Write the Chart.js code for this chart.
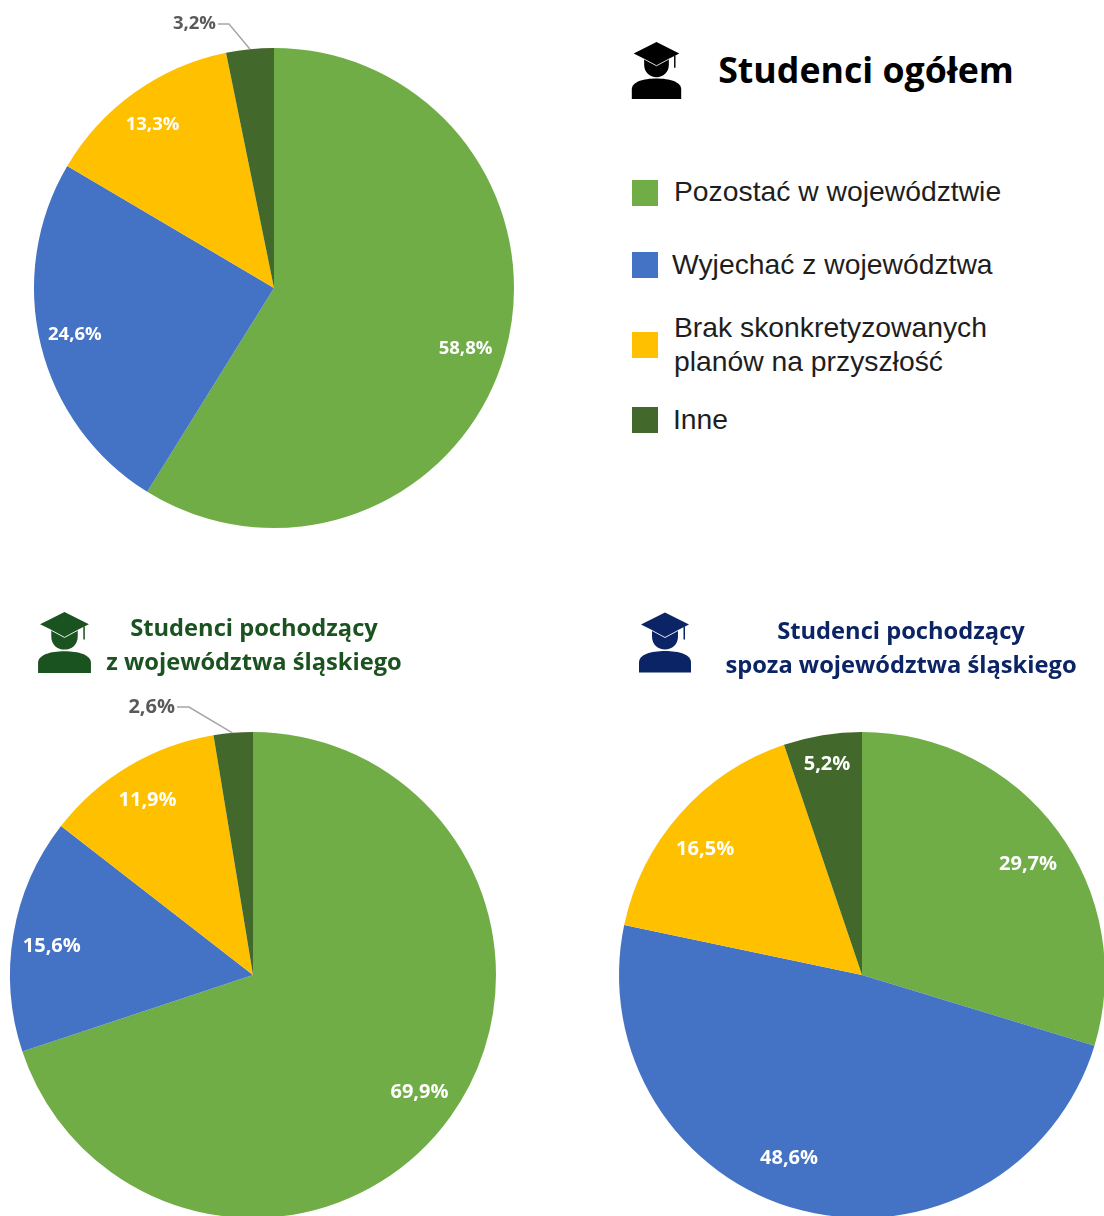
<!DOCTYPE html>
<html lang="pl">
<head>
<meta charset="utf-8">
<title>Studenci - plany na przyszłość</title>
<script src="https://cdn.jsdelivr.net/npm/chart.js@4"></script>
<style>
    html, body { margin: 0; padding: 0; background: #fff; }
    #page { position: relative; width: 1104px; height: 1216px; overflow: hidden; }
    .pie { position: absolute; }
    .txt { position: absolute; white-space: nowrap; }
    .title { font-family: "Open Sans", sans-serif; font-weight: 700; text-align: center; transform: translateX(-50%); }
    .legend { font-family: "Liberation Sans", sans-serif; font-size: 28.3px; line-height: 34px; color: #1e1e1e; }
    .box { position: absolute; width: 26px; height: 26px; }
    svg.icon { position: absolute; }
</style>
</head>
<body>
<div id="page">
    <canvas id="pieOgolem" class="pie"></canvas>
    <canvas id="pieSlaskie" class="pie"></canvas>
    <canvas id="pieSpoza" class="pie"></canvas>

    <svg class="icon" style="left:631px;top:42px" width="51" height="57" viewBox="0 0 52 60"><use href="#student" fill="#000"/></svg>
    <svg class="icon" style="left:38px;top:612px" width="53" height="61" viewBox="0 0 52 60"><use href="#student" fill="#1a5220"/></svg>
    <svg class="icon" style="left:639px;top:612px" width="52" height="61" viewBox="0 0 52 60"><use href="#student" fill="#0b2465"/></svg>

    <div class="txt title" style="left:866px;top:44px;font-size:35.7px;line-height:50px;color:#000">Studenci ogółem</div>
    <div class="txt title" style="left:254px;top:610px;font-size:23.7px;line-height:34px;color:#1a5220">Studenci pochodzący<br>z województwa śląskiego</div>
    <div class="txt title" style="left:901px;top:613px;font-size:23.7px;line-height:34px;color:#0b2465">Studenci pochodzący<br>spoza województwa śląskiego</div>

    <div class="box" style="left:632px;top:180px;background:#70ad47"></div>
    <div class="txt legend" style="left:674px;top:174px">Pozostać w województwie</div>
    <div class="box" style="left:632px;top:252px;background:#4472c4"></div>
    <div class="txt legend" style="left:672px;top:247px">Wyjechać z województwa</div>
    <div class="box" style="left:632px;top:332px;background:#ffc000"></div>
    <div class="txt legend" style="left:674px;top:310px">Brak skonkretyzowanych<br>planów na przyszłość</div>
    <div class="box" style="left:632px;top:407px;background:#43682b"></div>
    <div class="txt legend" style="left:673px;top:402px">Inne</div>

    <svg width="0" height="0" style="position:absolute">
        <defs>
            <g id="student">
                <path d="M26 0 L50 12 L39 17.5 L39 24 C39 32 33 37 26 37 C19 37 13 32 13 24 L13 17.5 L2 12 Z"/>
                <path d="M13 18 L26 25 L39 18" fill="none" stroke="#fff" stroke-width="0.9"/>
                <path d="M44.5 14.5 L46 14 L46 27 L44.5 27 Z"/>
                <path d="M0 60 L0 50 C0 42 12 38.5 26 38.5 C40 38.5 52 42 52 50 L52 60 Z"/>
            </g>
        </defs>
    </svg>
</div>

<script>
const categories = ['Pozostać w województwie', 'Wyjechać z województwa', 'Brak skonkretyzowanych planów na przyszłość', 'Inne'];
const kolory = ['#70ad47', '#4472c4', '#ffc000', '#43682b'];

const ogolem = [58.8, 24.6, 13.3, 3.2];
const slaskie = [69.9, 15.6, 11.9, 2.6];
const spoza = [29.7, 48.6, 16.5, 5.2];

const margines = 70;

// etykiety wartosci rysowane na wycinkach, male wycinki moga miec odnosnik
const etykiety = {
    id: 'etykiety',
    afterDatasetsDraw(chart, args, opts) {
        const ctx = chart.ctx;
        const arcs = chart.getDatasetMeta(0).data;
        ctx.save();
        ctx.font = '700 ' + opts.size + 'px "Open Sans", sans-serif';
        ctx.textBaseline = 'middle';
        arcs.forEach((arc, i) => {
            const tekst = chart.data.datasets[0].data[i].toFixed(1).replace('.', ',') + '%';
            const kat = (arc.startAngle + arc.endAngle) / 2;
            if (opts.odnosnik && opts.odnosnik.index === i) {
                const o = opts.odnosnik;
                const kx = arc.x + Math.cos(o.kat) * arc.outerRadius;
                const ky = arc.y + Math.sin(o.kat) * arc.outerRadius;
                ctx.strokeStyle = '#a6a6a6';
                ctx.lineWidth = 1.5;
                ctx.beginPath();
                ctx.moveTo(arc.x + o.lx, arc.y + o.ly);
                ctx.lineTo(arc.x + o.lx + o.poziom, arc.y + o.ly);
                ctx.lineTo(kx, ky);
                ctx.stroke();
                ctx.fillStyle = '#595959';
                ctx.textAlign = 'right';
                ctx.fillText(tekst, arc.x + o.lx - 2, arc.y + o.ly);
                return;
            }
            const r = arc.outerRadius * opts.promien[i];
            const p = opts.przesun[i];
            ctx.fillStyle = '#fff';
            ctx.textAlign = 'center';
            ctx.fillText(tekst, arc.x + Math.cos(kat) * r + p[0], arc.y + Math.sin(kat) * r + p[1]);
        });
        ctx.restore();
    }
};

function rysujPie(id, values, cx, cy, r, opcjeEtykiet) {
    const canvas = document.getElementById(id);
    const bok = 2 * (r + margines);
    canvas.style.left = (cx - r - margines) + 'px';
    canvas.style.top = (cy - r - margines) + 'px';
    canvas.style.width = bok + 'px';
    canvas.style.height = bok + 'px';
    canvas.width = bok;
    canvas.height = bok;
    return new Chart(canvas, {
        type: 'pie',
        data: {
            labels: categories,
            datasets: [{ data: values, backgroundColor: kolory, borderWidth: 0 }]
        },
        options: {
            responsive: false,
            animation: false,
            layout: { padding: margines },
            plugins: {
                legend: { display: false },
                tooltip: { enabled: false },
                etykiety: opcjeEtykiet
            }
        },
        plugins: [etykiety]
    });
}

rysujPie('pieOgolem', ogolem, 274, 288, 240, {
    size: 18.5,
    promien: [0.83, 0.85, 0.85],
    przesun: [[0, 6], [-1, -2], [-3, 3]],
    odnosnik: { index: 3, lx: -56, ly: -264, poziom: 11, kat: -Math.PI / 2 - 0.1 }
});
rysujPie('pieSlaskie', slaskie, 253, 975, 243, {
    size: 20,
    promien: [0.84, 0.84, 0.84],
    przesun: [[1, -2], [0, 6], [-1, 1]],
    odnosnik: { index: 3, lx: -76, ly: -268, poziom: 12, kat: -Math.PI / 2 - 0.085 }
});
rysujPie('pieSpoza', spoza, 862, 975, 243, {
    size: 20,
    promien: [0.83, 0.81, 0.83, 0.885],
    przesun: [[4, 9], [-24, -7], [-6, 8], [0, 1]]
});
</script>
</body>
</html>
